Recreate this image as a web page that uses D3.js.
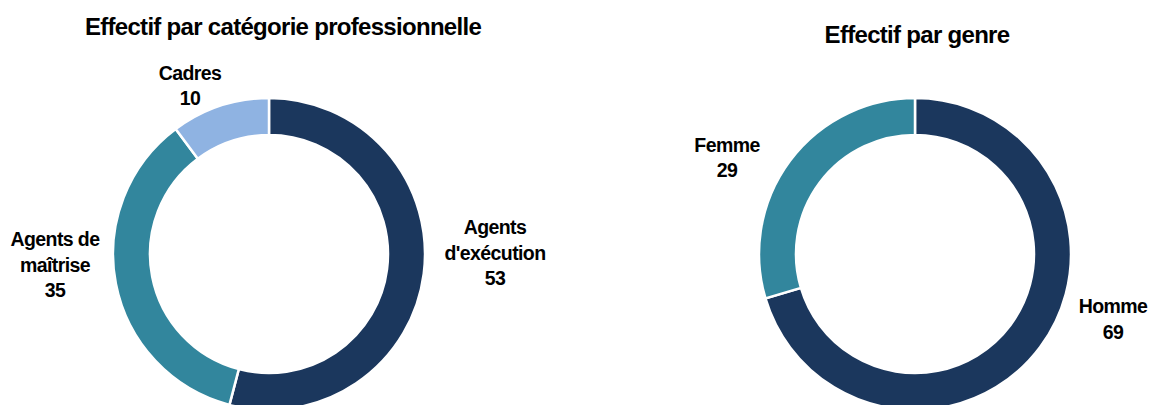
<!DOCTYPE html>
<html><head><meta charset="utf-8">
<script src="https://cdn.jsdelivr.net/npm/d3@7"></script>
<style>
html,body{margin:0;padding:0;background:#fff;}
svg text{font-family:"Liberation Sans",Arial,sans-serif;font-weight:bold;fill:#000;}
</style></head>
<body><svg id="c" width="1152" height="405"></svg>
<script>
const catLabels = [["Agents","d'exécution"],["Agents de","maîtrise"],["Cadres"]];
const catValues = [53, 35, 10];
const catColors = ["#1b375d","#32869d","#8fb3e2"];
const genreLabels = [["Homme"],["Femme"]];
const genreValues = [69, 29];
const genreColors = ["#1b375d","#32869d"];
const titles = ["Effectif par catégorie professionnelle","Effectif par genre"];

const svg = d3.select("#c");

function donut(cfg){
  const g = svg.append("g").attr("transform",`translate(${cfg.cx},${cfg.cy})`);
  const pie = d3.pie().sort(null).value(d=>d.v);
  const arcs = pie(cfg.values.map((v,i)=>({v, label:cfg.labels[i], color:cfg.colors[i]})));
  const arc = d3.arc().innerRadius(cfg.ri).outerRadius(cfg.ro);
  g.selectAll("path").data(arcs).join("path")
    .attr("d",arc).attr("fill",d=>d.data.color)
    .attr("stroke","#fff").attr("stroke-width",2.5);
  svg.append("text").attr("x",cfg.tx).attr("y",cfg.ty)
    .attr("text-anchor","middle").attr("font-size",24)
    .attr("letter-spacing","-0.7px").text(cfg.title);
  arcs.forEach((d,i)=>{
    const p = cfg.labelPos[i];
    const lines = d.data.label.concat([String(d.data.v)]);
    const t = svg.append("text").attr("text-anchor","middle")
      .attr("font-size",19.5).attr("letter-spacing","-0.6px");
    lines.forEach((l,j)=>{
      t.append("tspan").attr("x",p[0]).attr("y",p[1]+j*p[2]).text(l);
    });
  });
}

donut({cx:269, cy:254, ro:156, ri:119, values:catValues, labels:catLabels, colors:catColors,
  title:titles[0], tx:283, ty:35,
  labelPos:[[495,234,25.5],[55,246,25.5],[190,80,24.5]]});
donut({cx:915, cy:254, ro:156, ri:119, values:genreValues, labels:genreLabels, colors:genreColors,
  title:titles[1], tx:917, ty:43,
  labelPos:[[1113,313,26],[727,152,24.5]]});
</script></body></html>
